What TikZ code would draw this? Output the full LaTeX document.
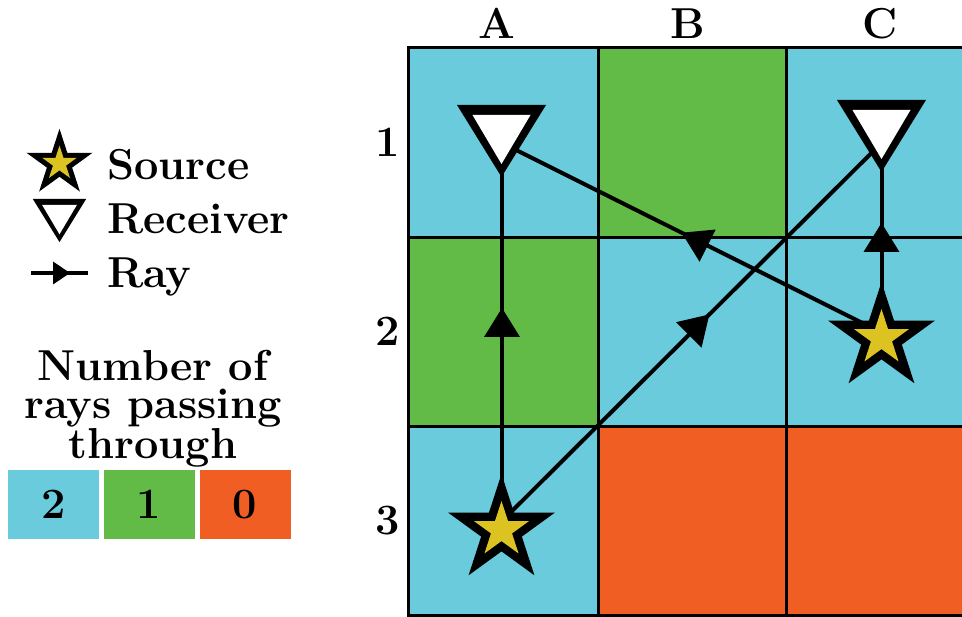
\documentclass[tikz,border=0pt]{standalone}
\usepackage{fontspec}
\usetikzlibrary{decorations.markings}
\definecolor{cellcyan}{HTML}{69CBDB}
\definecolor{cellgreen}{HTML}{62BA47}
\definecolor{cellorange}{HTML}{F15E24}
\definecolor{staryellow}{HTML}{DCC321}
\begin{document}
\begin{tikzpicture}[x=1pt,y=-1pt,
  every node/.style={font=\fontsize{43.3}{43.3}\selectfont\bfseries, inner sep=0pt},
  gridline/.style={line width=3pt, black},
  ray/.style={line width=4pt, black},
  rayarrow/.style={decoration={markings, mark=at position #1 with {\fill[black] (0,0) -- (-29,18) -- (-29,-18) -- cycle;}}, postaction={decorate}},
  legarrow/.style={decoration={markings, mark=at position #1 with {\fill[black] (0,0) -- (-17,11.5) -- (-17,-11.5) -- cycle;}}, postaction={decorate}},
  receiver/.pic={
    \fill[black] (-44.5,-36) -- (44.5,-36) -- (0,36) -- cycle;
    \fill[white] (-29,-26) -- (29,-26) -- (0,23) -- cycle;
  },
  source/.pic={
    \fill[black] (270:56) \foreach \i in {1,...,9}{ -- ({270+36*\i}:{56*(1-0.618*mod(\i,2))}) } -- cycle;
    \fill[staryellow] (270:29) \foreach \i in {1,...,9}{ -- ({270+36*\i}:{29*(1-0.618*mod(\i,2))}) } -- cycle;
  },
  legbox/.style={minimum width=91pt, minimum height=69pt, anchor=center}
]
\useasboundingbox (0,0) rectangle (962,617);
\clip (0,0) rectangle (962,617);

% cells
\fill[cellcyan]   (408,48)  rectangle (598,238);
\fill[cellgreen]  (598,48)  rectangle (786,238);
\fill[cellcyan]   (786,48)  rectangle (975,238);
\fill[cellgreen]  (408,238) rectangle (598,427);
\fill[cellcyan]   (598,238) rectangle (786,427);
\fill[cellcyan]   (786,238) rectangle (975,427);
\fill[cellcyan]   (408,427) rectangle (598,615);
\fill[cellorange] (598,427) rectangle (786,615);
\fill[cellorange] (786,427) rectangle (975,615);

% grid lines
\draw[gridline] (408,48) rectangle (975,615);
\draw[gridline] (598,48) -- (598,615);
\draw[gridline] (786,48) -- (786,615);
\draw[gridline] (408,238) -- (975,238);
\draw[gridline] (408,427) -- (975,427);

% column and row labels
\node[anchor=base] (colA) at (497,39) {A};
\node[anchor=base] (colB) at (688,39) {B};
\node[anchor=base] (colC) at (880,39) {C};
\node[anchor=base] (row1) at (388,157) {1};
\node[anchor=base] (row2) at (388,346) {2};
\node[anchor=base] (row3) at (388,535) {3};

% ray end points (cell centres)
\coordinate (pA1) at (502,143);
\coordinate (pC1) at (881.5,143);
\coordinate (pC2) at (881.5,332.5);
\coordinate (pA3) at (502,521);

% rays
\draw[ray, rayarrow=213pt] (pA3) -- (pA1);
\draw[ray, rayarrow=292.7pt] (pA3) -- (pC1);
\draw[ray, rayarrow=223.4pt] (pC2) -- (pA1);
\draw[ray, rayarrow=109.5pt] (pC2) -- (pC1);

% markers
\pic at (501.5,141) {receiver};
\pic at (881.5,136) {receiver};
\pic at (501.5,530) {source};
\pic at (881.5,338) {source};

% legend
\pic[scale=0.62] at (59.5,163.5) {source};
\pic[scale=0.6] at (59.5,220.5) {receiver};
\coordinate (lr1) at (31,273);
\coordinate (lr2) at (88,273);
\draw[ray, legarrow=39pt] (lr1) -- (lr2);
\node[anchor=base west] (lsrc) at (107,180) {Source};
\node[anchor=base west] (lrec) at (107,234) {Receiver};
\node[anchor=base west] (lray) at (107,288) {Ray};

\node[align=center, anchor=north, font=\fontsize{43.3}{38}\selectfont\bfseries] (title) at (153,350) {Number of\\rays passing\\through};

\node[legbox, fill=cellcyan]   (lb2) at (53.5,504.5) {2};
\node[legbox, fill=cellgreen]  (lb1) at (149,504.5) {1};
\node[legbox, fill=cellorange] (lb0) at (245,504.5) {0};
\end{tikzpicture}
\end{document}
